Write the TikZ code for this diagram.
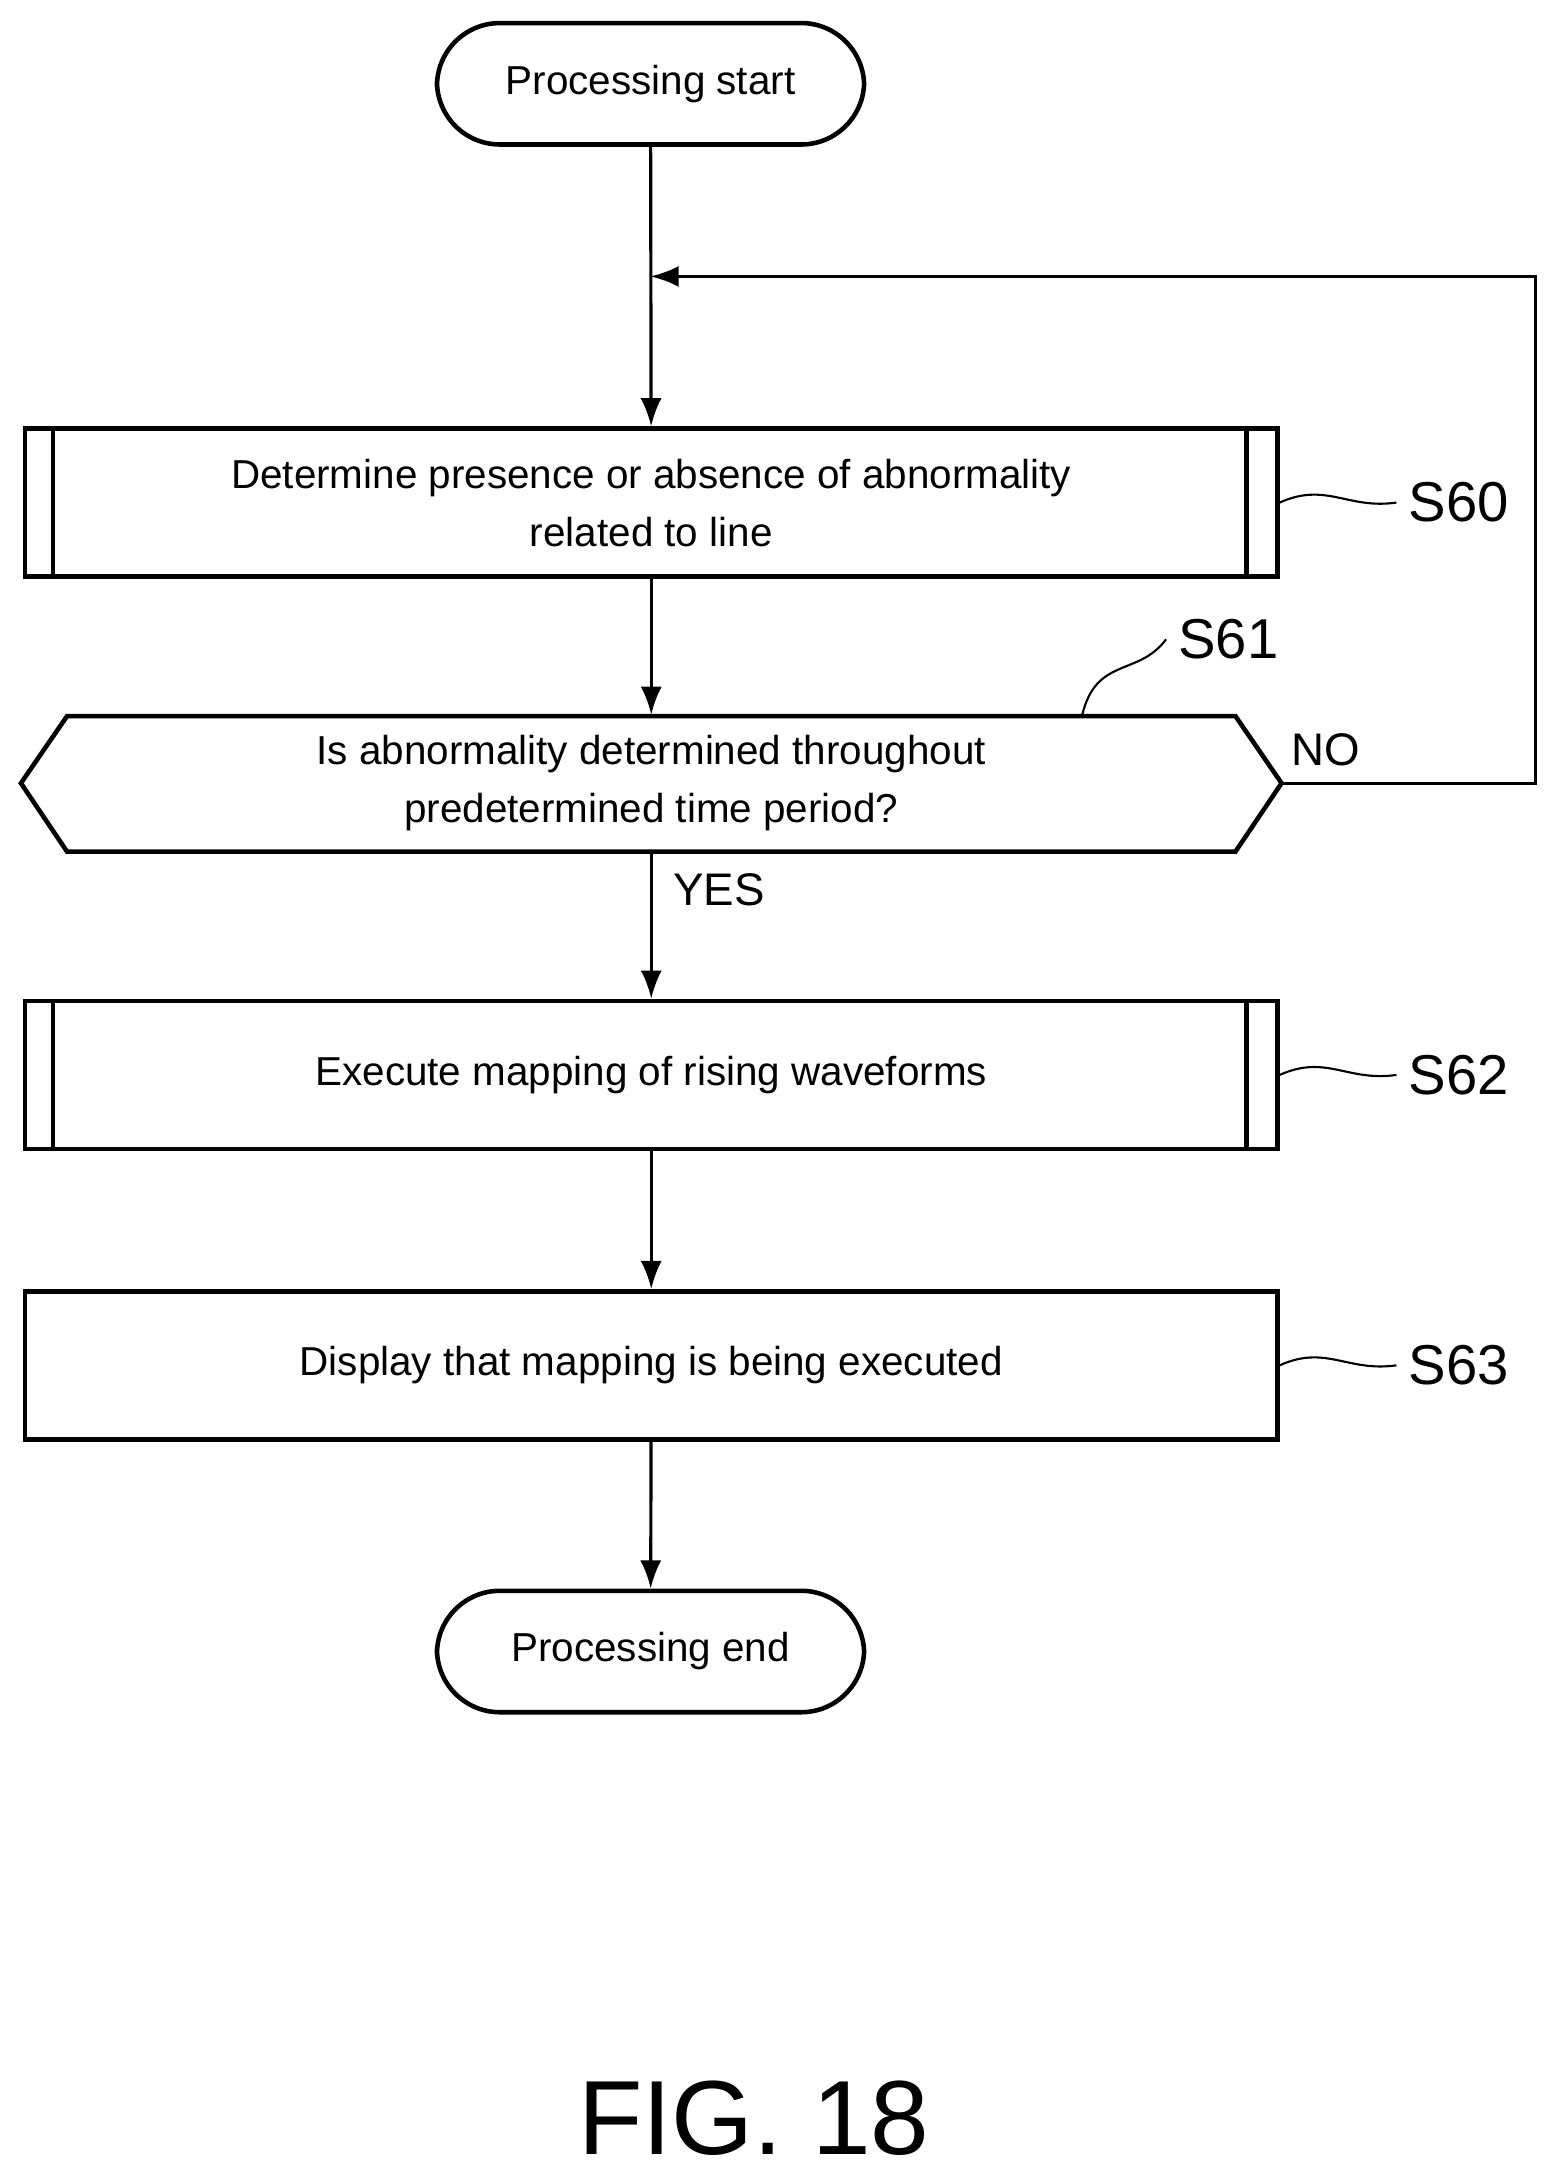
\documentclass[tikz,border=0pt]{standalone}
\usepackage{fontspec}
\setmainfont{Liberation Sans}
\usetikzlibrary{positioning,arrows.meta}
\tikzset{
  box/.style={draw, line width=1.3pt, minimum width=897*0.01396cm, minimum height=106*0.01396cm, align=center, font=\fontsize{11.5}{16.5}\selectfont},
  term/.style={draw, line width=1.3pt, rounded corners=0.63cm, minimum width=306*0.01396cm, minimum height=87*0.01396cm, font=\fontsize{11.5}{14}\selectfont},
  flow/.style={-{Latex[length=8pt,width=6pt]}, line width=0.9pt},
  steplabel/.style={font=\fontsize{16}{18}\selectfont},
  squig/.style={line width=0.6pt}
}
\begin{document}
\begin{tikzpicture}[x=0.01396cm, y=-0.01396cm]
    \useasboundingbox (0,0) rectangle (1110,1558);
    % Terminals and steps
    \node[term] (start) at (466,60) {Processing start};
    \node[box] (s60) at (466.5,360) {Determine presence or absence of abnormality\\related to line};
    \draw[line width=1.3pt] (38,307) -- (38,413) (893,307) -- (893,413);
    \node[minimum width=870*0.01396cm, minimum height=97*0.01396cm, align=center, inner sep=0pt, font=\fontsize{11.5}{16.5}\selectfont] (s61) at (466.5,561) {Is abnormality determined throughout\\predetermined time period?};
    \draw[line width=1.3pt] (15,561) -- (48,513) -- (885,513) -- (918,561) -- (885,610) -- (48,610) -- cycle;
    \node[box] (s62) at (466.5,770) {Execute mapping of rising waveforms};
    \draw[line width=1.3pt] (38,717) -- (38,823) (893,717) -- (893,823);
    \node[box] (s63) at (466.5,978) {Display that mapping is being executed};
    \node[term] (stop) at (466,1183) {Processing end};
    % Labels
    \node[steplabel] (l60) at (1045,360) {S60};
    \node[steplabel] (l61) at (880,458) {S61};
    \node[steplabel] (l62) at (1045,770) {S62};
    \node[steplabel] (l63) at (1045,978) {S63};
    \draw[squig] (s60.east) .. controls (950,345) and (965,365) .. (l60.west);
    \draw[squig] (s62.east) .. controls (950,755) and (965,775) .. (l62.west);
    \draw[squig] (s63.east) .. controls (950,963) and (965,983) .. (l63.west);
    \draw[squig] (775,513) .. controls (785,470) and (815,485) .. (l61.west);
    \node[font=\fontsize{13}{15}\selectfont] (no) at (950,537) {NO};
    \node[font=\fontsize{13}{15}\selectfont] (yes) at (515,637) {YES};
    % Connectors
    \coordinate (hexR) at (918,561);
    \coordinate (loopR) at (1100,561);
    \coordinate (loopT) at (1100,198);
    \coordinate (join) at (466,198);
    \draw[flow] (start) -- (s60);
    \draw[flow] (hexR) -- (loopR) -- (loopT) -- (join);
    \draw[flow] (s60) -- (s61.north);
    \draw[flow] (s61.south) -- (s62);
    \draw[flow] (s62) -- (s63);
    \draw[flow] (s63) -- (stop);
    \node[font=\fontsize{30}{33}\selectfont] (fig) at (540,1517) {FIG. 18};
\end{tikzpicture}
\end{document}
